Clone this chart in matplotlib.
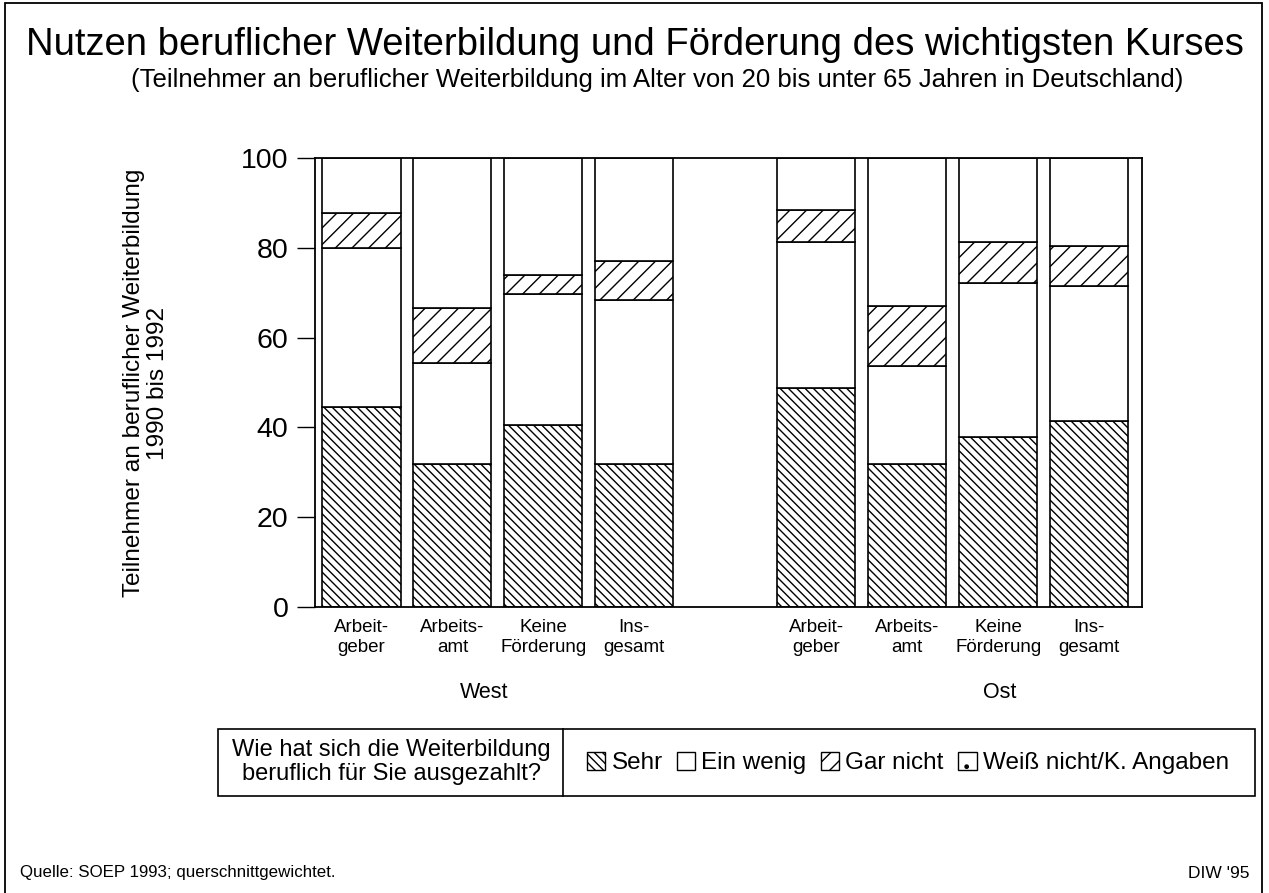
import matplotlib.pyplot as plt
from matplotlib.patches import Rectangle, Patch
from matplotlib.lines import Line2D
import numpy as np

plt.rcParams['font.family'] = ['Liberation Sans', 'DejaVu Sans']
plt.rcParams['hatch.linewidth'] = 1.0

# Anteile in % je Förderart (West, Ost)
kategorien = ["Arbeit-\ngeber", "Arbeits-\namt", "Keine\nFörderung", "Ins-\ngesamt"]
sehr = [44.5, 31.8, 40.6, 31.8, 48.8, 31.8, 37.9, 41.4]
ein_wenig = [35.5, 22.6, 29.1, 36.6, 32.6, 21.9, 34.3, 30.1]
gar_nicht = [7.8, 12.2, 4.2, 8.7, 7.0, 13.4, 9.0, 8.9]
weiss_nicht = [12.2, 33.4, 26.1, 22.9, 11.6, 32.9, 18.8, 19.6]
regionen = ["West", "Ost"]
yticks = [0, 20, 40, 60, 80, 100]

pos = [0, 1, 2, 3, 5, 6, 7, 8]

fig = plt.figure(figsize=(12.69, 8.93), dpi=100)
ax = fig.add_axes([315 / 1269, 1 - 607 / 893, (1142 - 315) / 1269, (607 - 158) / 893])

serien = [
    (sehr, '\\\\\\\\', "Sehr"),
    (ein_wenig, '', "Ein wenig"),
    (gar_nicht, '//', "Gar nicht"),
    (weiss_nicht, '', "Weiß nicht/K. Angaben"),
]
unten = np.zeros(len(pos))
handles = []
for werte, hatch, name in serien:
    ax.bar(pos, werte, bottom=unten, width=0.86, color='white',
           edgecolor='black', linewidth=1.2, hatch=hatch, label=name)
    # Legendensymbol; "Weiß nicht" bekommt einen Punkt
    handles.append(Patch(facecolor='white', edgecolor='black', linewidth=1.0,
                         hatch=hatch if hatch else ('.' if name.startswith("Weiß") else ''),
                         label=name))
    unten += np.array(werte)

ax.set_xlim(-0.51, 8.58)
ax.set_ylim(0, 100)
ax.set_yticks(yticks)
ax.set_yticklabels([str(v) for v in yticks], fontsize=20.5)
ax.tick_params(axis='y', length=13, width=1, pad=6)
ax.set_xticks(pos)
ax.set_xticklabels(kategorien * 2, fontsize=13.5, linespacing=1.2)
ax.tick_params(axis='x', length=0, pad=9)
for s in ax.spines.values():
    s.set_linewidth(1.3)

# Gruppenbeschriftung
fig.text(484 / 1269, 1 - 692 / 893, regionen[0], fontsize=15.5, ha='center', va='center')
fig.text(1000 / 1269, 1 - 692 / 893, regionen[1], fontsize=15.5, ha='center', va='center')

# y-Achsentitel
fig.text(146 / 1269, 1 - 383 / 893, "Teilnehmer an beruflicher Weiterbildung\n1990 bis 1992",
         rotation=90, ha='center', va='center', fontsize=17.6, linespacing=1.15)

# Titel
fig.text(0.5, 1 - 45 / 893, "Nutzen beruflicher Weiterbildung und Förderung des wichtigsten Kurses",
         ha='center', va='center', fontsize=27.5)
fig.text(657 / 1269, 1 - 80 / 893, "(Teilnehmer an beruflicher Weiterbildung im Alter von 20 bis unter 65 Jahren in Deutschland)",
         ha='center', va='center', fontsize=18.5)

# Legende mit Kasten
fig.add_artist(Rectangle((218 / 1269, 1 - 796 / 893), (1255 - 218) / 1269, (796 - 729) / 893,
                         transform=fig.transFigure, fill=False, edgecolor='black', linewidth=1.2))
fig.add_artist(Line2D([563 / 1269, 563 / 1269], [1 - 796 / 893, 1 - 729 / 893],
                      transform=fig.transFigure, color='black', linewidth=1.2))
fig.text(391 / 1269, 1 - 762 / 893, "Wie hat sich die Weiterbildung\nberuflich für Sie ausgezahlt?",
         ha='center', va='center', fontsize=17, linespacing=1.15)
fig.legend(handles=handles, loc='center', bbox_to_anchor=(908 / 1269, 1 - 763 / 893),
           ncol=4, frameon=False, fontsize=17.5, handlelength=0.75, handleheight=0.75,
           handletextpad=0.25, columnspacing=0.6, borderaxespad=0)

# Quelle
fig.text(20 / 1269, 1 - 873 / 893, "Quelle: SOEP 1993; querschnittgewichtet.",
         ha='left', va='center', fontsize=12.2)
fig.text(1250 / 1269, 1 - 873 / 893, "DIW '95", ha='right', va='center', fontsize=12.5)

# Rahmen
fig.add_artist(Rectangle((5 / 1269, -0.01), (1262 - 5) / 1269, 1 - 3 / 893 + 0.01,
                         transform=fig.transFigure, fill=False, edgecolor='black', linewidth=1.3))

fig.savefig('out.png', dpi=100)
